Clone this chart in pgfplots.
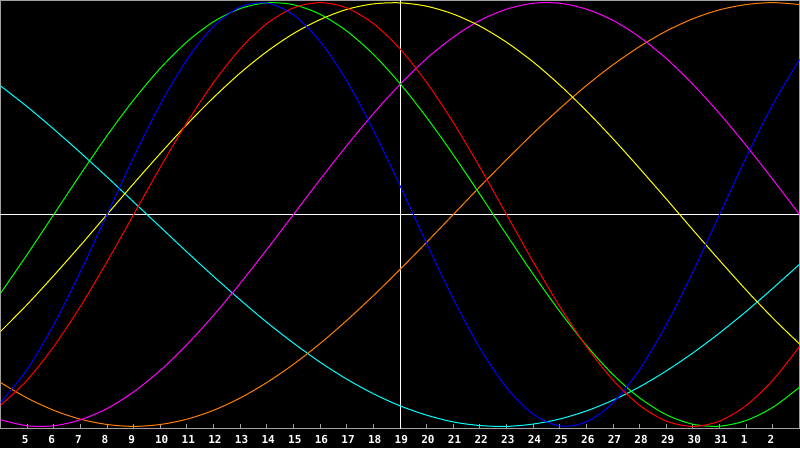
\documentclass[border=0pt]{standalone}
\usepackage{fontspec}
\setmonofont{DejaVu Sans Mono}
\usepackage{pgfplots}
\usepackage{pgfplotstable}
\pgfplotsset{compat=1.18}
\definecolor{framegray}{RGB}{160,160,160}
\definecolor{bblue}{RGB}{0,0,255}
\definecolor{bred}{RGB}{255,0,0}
\definecolor{bgreen}{RGB}{0,255,0}
\definecolor{byellow}{RGB}{255,255,0}
\definecolor{bmagenta}{RGB}{255,0,255}
\definecolor{borange}{RGB}{255,128,0}
\definecolor{bcyan}{RGB}{0,255,255}
\pgfplotstableread{
t blue red green yellow magenta orange cyan
4 -0.888 -0.901 -0.372 -0.552 -0.969 -0.793 0.607
5 -0.731 -0.782 -0.189 -0.425 -0.997 -0.866 0.509
6 -0.520 -0.623 0.000 -0.288 -0.997 -0.924 0.403
7 -0.270 -0.434 0.189 -0.146 -0.969 -0.966 0.292
8 0.000 -0.223 0.372 0.000 -0.916 -0.991 0.177
9 0.270 0.000 0.541 0.146 -0.837 -1.000 0.059
10 0.520 0.223 0.690 0.288 -0.736 -0.991 -0.059
11 0.731 0.434 0.815 0.425 -0.614 -0.966 -0.177
12 0.888 0.623 0.910 0.552 -0.476 -0.924 -0.292
13 0.979 0.782 0.972 0.668 -0.325 -0.866 -0.403
14 0.998 0.901 0.999 0.769 -0.165 -0.793 -0.509
15 0.942 0.975 0.990 0.854 0.000 -0.707 -0.607
16 0.817 1.000 0.945 0.920 0.165 -0.609 -0.697
17 0.631 0.975 0.866 0.968 0.325 -0.500 -0.777
18 0.398 0.901 0.756 0.994 0.476 -0.383 -0.846
19 0.136 0.782 0.618 0.999 0.614 -0.259 -0.903
20 -0.136 0.623 0.458 0.983 0.736 -0.131 -0.947
21 -0.398 0.434 0.282 0.946 0.837 0.000 -0.979
22 -0.631 0.223 0.095 0.889 0.916 0.131 -0.996
23 -0.817 0.000 -0.095 0.813 0.969 0.259 -1.000
24 -0.942 -0.223 -0.282 0.720 0.997 0.383 -0.989
25 -0.998 -0.434 -0.458 0.611 0.997 0.500 -0.965
26 -0.979 -0.623 -0.618 0.489 0.969 0.609 -0.927
27 -0.888 -0.782 -0.756 0.357 0.916 0.707 -0.876
28 -0.731 -0.901 -0.866 0.217 0.837 0.793 -0.813
29 -0.520 -0.975 -0.945 0.073 0.736 0.866 -0.738
30 -0.270 -1.000 -0.990 -0.073 0.614 0.924 -0.653
31 0.000 -0.975 -0.999 -0.217 0.476 0.966 -0.559
32 0.270 -0.901 -0.972 -0.357 0.325 0.991 -0.457
33 0.520 -0.782 -0.910 -0.489 0.165 1.000 -0.348
34 0.731 -0.623 -0.815 -0.611 0.000 0.991 -0.235
}\biodata
\begin{document}
\begin{tikzpicture}
\fill[black] (0,-19.5pt) rectangle (800pt,428.5pt);
\begin{axis}[
  at={(0.5pt,0pt)}, anchor=south west,
  scale only axis,
  width=799pt, height=428pt,
  xmin=4, xmax=34, ymin=-1.01, ymax=1.01,
  axis background/.style={fill=black},
  axis line style={draw=framegray, line width=1pt},
  xtick={5,...,33},
  xticklabels={5,6,7,8,9,10,11,12,13,14,15,16,17,18,19,20,21,22,23,24,25,26,27,28,29,30,31,1,2},
  xtick pos=left,
  tick align=inside,
  major tick length=5pt,
  every tick/.style={draw=framegray, line width=1pt},
  ytick=\empty,
  xticklabel style={font=\ttfamily\bfseries\fontsize{11}{11}\selectfont, text=white, anchor=north west, inner sep=0pt, xshift=-5.5pt, yshift=-7pt},
  clip=true,
  every axis plot/.append style={line width=1pt},
]
\addplot[white, line width=1pt] coordinates {(4,0) (34,0)};
\addplot[white, line width=1pt] coordinates {(19,-1.1) (19,1.1)};
\addplot[bcyan, smooth] table[x=t, y=cyan] {\biodata};
\addplot[borange, smooth] table[x=t, y=orange] {\biodata};
\addplot[bmagenta, smooth] table[x=t, y=magenta] {\biodata};
\addplot[byellow, smooth] table[x=t, y=yellow] {\biodata};
\addplot[bgreen, smooth] table[x=t, y=green] {\biodata};
\addplot[bred, smooth] table[x=t, y=red] {\biodata};
\addplot[bblue, smooth] table[x=t, y=blue] {\biodata};
\end{axis}
\pgfresetboundingbox
\path[use as bounding box] (0,-19.5pt) rectangle (800pt,428.5pt);
\end{tikzpicture}
\end{document}
